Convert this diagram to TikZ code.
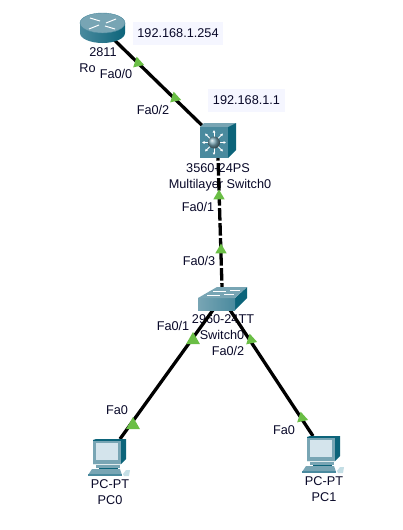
\documentclass[tikz,border=0pt]{standalone}
\usepackage{fontspec}
\setmainfont{Liberation Sans}
\usepackage{xcolor}
\usetikzlibrary{arrows.meta,shapes.geometric}
\definecolor{linkgreen}{RGB}{106,190,69}
\definecolor{ipback}{RGB}{245,246,255}
\definecolor{inktext}{RGB}{8,8,40}
\definecolor{ciscomid}{RGB}{74,138,158}
\definecolor{ciscolight}{RGB}{196,222,229}
\definecolor{ciscotop}{RGB}{120,165,180}
\definecolor{ciscodark}{RGB}{12,100,122}
\definecolor{ciscoscreen}{RGB}{212,228,236}
\tikzset{
  pcicon/.pic={
    \fill[ciscodark] (0,1) -- (3,0) -- (33,0) -- (33,20) -- (28,25) -- (0,25) -- cycle;
    \fill[ciscotop] (0,2) rectangle (28,25);
    \fill[ciscoscreen] (3,4) rectangle (25,21);
    \fill[ciscotop] (3,26) rectangle (27,29);
    \fill[ciscodark] (6,29) rectangle (25,30);
    \fill[ciscotop] (-1,30) -- (27,30) -- (29,36) -- (-5,36) -- cycle;
    \fill[ciscomid] (-5,35) rectangle (29,37);
    \fill[ciscolight] (30,35) -- (33,31) -- (37,31) -- (36,37) -- (31,37) -- cycle;
  }
}

\begin{document}
\begin{tikzpicture}[
    x=1pt,y=-1pt,
    txt/.style={font=\fontsize{12.7}{14}\selectfont,text=inktext,inner sep=0pt},
    ipbox/.style={rectangle,fill=ipback,font=\fontsize{12.7}{14}\selectfont,text=inktext,
      minimum height=23pt,inner sep=0pt},
    device/.style={rectangle,inner sep=0pt},
    link/.style={line width=3.3pt,black},
    light/.style={regular polygon,regular polygon sides=3,fill=linkgreen,inner sep=0pt,
      minimum size=13pt,rotate=12},
    lightw/.style={regular polygon,regular polygon sides=3,fill=linkgreen,inner sep=0pt,
      minimum size=16pt},
    whitearrow/.style={white,line width=0.8pt,{Latex[length=2.5pt,width=3pt]}-{Latex[length=2.5pt,width=3pt]}}
  ]
    \useasboundingbox (0,0) rectangle (402,530);

    % device places
    \node[device,minimum width=45pt,minimum height=30pt] (router) at (102,28) {};
    \node[device,minimum width=36pt,minimum height=35pt] (mlsw) at (218,140.5) {};
    \node[device,minimum width=49pt,minimum height=23pt] (sw) at (222,298.5) {};
    \node[device,minimum width=37pt,minimum height=36pt] (pc0) at (106.5,457) {};
    \node[device,minimum width=37pt,minimum height=36pt] (pc1) at (320.5,454) {};
    \coordinate (mlswcentre) at (214,137);
    \coordinate (swleft) at (213,310);
    \coordinate (swright) at (230,310);
    \coordinate (pc0top) at (120,439);
    \coordinate (pc1top) at (313,436);

    % texts
    \node[ipbox,minimum width=90pt] (iprouter) at (178,33.5) {192.168.1.254};
    \node[ipbox,minimum width=77pt] (ipmlsw) at (246.5,100) {192.168.1.1};
    \node[txt] (routermodel) at (103,52) {2811};
    \node[txt] (routername) at (87.5,68) {Ro};
    \node[txt] (routerfa) at (116,74) {Fa0/0};
    \node[txt] (mlswfa2) at (153,110) {Fa0/2};
    \node[txt] (mlswmodel) at (218,168) {3560-24PS};
    \node[txt] (mlswname) at (220,185) {Multilayer Switch0};
    \node[txt] (mlswfa1) at (198,207) {Fa0/1};
    \node[txt] (swfa3) at (199,261) {Fa0/3};
    \node[txt] (swmodel) at (223,319) {2960-24TT};
    \node[txt] (swname) at (222,335) {Switch0};
    \node[txt] (swfa1) at (173,326) {Fa0/1};
    \node[txt] (swfa2) at (228,351) {Fa0/2};
    \node[txt] (pc0fa) at (117,410) {Fa0};
    \node[txt] (pc0model) at (110,484) {PC-PT};
    \node[txt] (pc0name) at (110,500) {PC0};
    \node[txt] (pc1fa) at (284,430) {Fa0};
    \node[txt] (pc1model) at (324,481) {PC-PT};
    \node[txt] (pc1name) at (324,497) {PC1};

    % links
    \draw[link] (router.center) -- (mlswcentre);
    \draw[link,dash pattern=on 12.5pt off 2.5pt,dash phase=10pt] (mlsw.south) -- (sw.north);
    \draw[link] (swleft) -- (pc0top);
    \draw[link] (swright) -- (pc1top);

    % router
    \path[left color=ciscomid,middle color=ciscolight,right color=ciscodark]
      (80,23) -- (80,33) .. controls (80,38.5) and (90,43) .. (102.5,43)
      .. controls (115,43) and (125,38.5) .. (125,33) -- (125,23) -- cycle;
    \fill[ciscotop,draw=ciscomid] (102.5,23) ellipse[x radius=22.5,y radius=10];
    \draw[white,line width=1pt] (90,18) -- (100,21) (116,19) -- (106,23) (89,29) -- (99,25) (105,26) -- (115,29);

    % multilayer switch
    \fill[ciscotop] (200,127) -- (204,123) -- (236,123) -- (228,127) -- cycle;
    \fill[ciscodark] (228,127) -- (236,123) -- (236,150) -- (228,158) -- cycle;
    \fill[ciscomid] (200,127) rectangle (228,158);
    \draw[whitearrow] (202,142.5) -- (226,142.5);
    \draw[whitearrow] (214,130) -- (214,155);
    \draw[whitearrow] (205,133.5) -- (223,151.5);
    \draw[whitearrow] (205,151.5) -- (223,133.5);
    \shade[ball color=ciscotop] (214,142.5) circle[radius=6];

    % switch
    \fill[ciscodark] (247,287) -- (247,298) -- (235,310) -- (235,298) -- cycle;
    \fill[left color=ciscotop,right color=ciscomid] (198,298) rectangle (235,310);
    \fill[ciscotop] (198,298) -- (217,287) -- (247,287) -- (235,298) -- cycle;
    \draw[white,line width=0.7pt] (213,291) -- (226,291) (230,290) -- (240,290)
      (207,295) -- (220,295) (224,294) -- (234,294);

    % pcs
    \pic at (93,439) {pcicon};
    \pic at (307,436) {pcicon};

    % link lights
    \node[light] (l1) at (138,63) {};
    \node[light] (l2) at (175,98) {};
    \node[light,rotate=-12] (l3) at (219,196) {};
    \node[light,rotate=-12] (l4) at (221,250) {};
    \node[lightw] (l5) at (193,340) {};
    \node[light] (l6) at (251,340) {};
    \node[lightw] (l7) at (133,425) {};
    \node[light] (l8) at (302,418) {};
  \end{tikzpicture}
\end{document}
